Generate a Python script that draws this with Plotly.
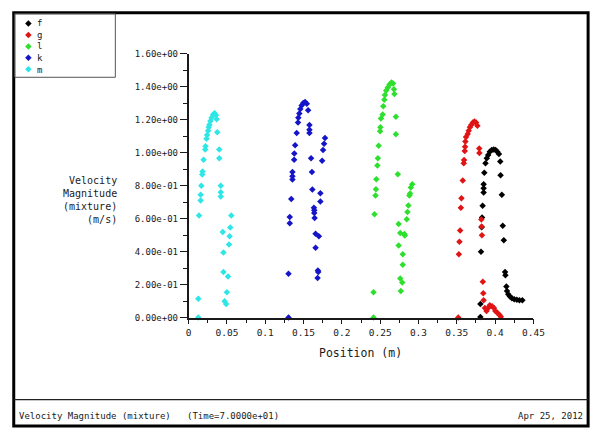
import plotly.graph_objects as go

W, H = 604, 433

# ---- series data: position (m) vs velocity magnitude (m/s) ----
series_names = ["f", "g", "l", "k", "m"]
series_colors = ["#000000", "#e01414", "#2ee02e", "#1414c8", "#2ee6e6"]

f_x = [0.3808, 0.3808, 0.3816, 0.3824, 0.3830, 0.3837, 0.3850, 0.3850, 0.3850, 0.3859,
       0.3875, 0.3892, 0.3910, 0.3930, 0.3956, 0.3982, 0.4007, 0.4029, 0.4050, 0.4067,
       0.4071, 0.4088, 0.4100, 0.4114, 0.4130, 0.4135, 0.4147, 0.4155, 0.4172, 0.4194,
       0.4220, 0.4250, 0.4284, 0.4318, 0.4356]
f_y = [0.004, 0.083, 0.400, 0.548, 0.608, 0.679, 0.759, 0.785, 0.809, 0.878,
       0.937, 0.966, 0.986, 1.006, 1.016, 1.020, 1.016, 1.006, 0.992, 0.947,
       0.864, 0.746, 0.558, 0.469, 0.276, 0.257, 0.188, 0.162, 0.142, 0.128,
       0.118, 0.112, 0.108, 0.105, 0.105]

g_x = [0.3519, 0.3527, 0.3535, 0.3544, 0.3553, 0.3561, 0.3578, 0.3591, 0.3595, 0.3604,
       0.3608, 0.3612, 0.3620, 0.3642, 0.3655, 0.3672, 0.3688, 0.3710, 0.3730, 0.3752,
       0.3769, 0.3793, 0.3795, 0.3820, 0.3824, 0.3828, 0.3840, 0.3845, 0.3850, 0.3867,
       0.3888, 0.3910, 0.3930, 0.3960, 0.3985, 0.4003, 0.4029, 0.4058, 0.4075]
g_y = [0.000, 0.385, 0.460, 0.528, 0.667, 0.724, 0.832, 0.937, 0.956, 1.010,
       1.036, 1.069, 1.095, 1.114, 1.134, 1.154, 1.169, 1.183, 1.189, 1.183,
       1.164, 1.026, 0.998, 0.595, 0.552, 0.500, 0.217, 0.148, 0.105, 0.059,
       0.040, 0.059, 0.075, 0.069, 0.059, 0.040, 0.030, 0.016, 0.005]

l_x = [0.2413, 0.2413, 0.2426, 0.2439, 0.2445, 0.2450, 0.2464, 0.2470, 0.2480, 0.2499,
       0.2503, 0.2510, 0.2533, 0.2540, 0.2554, 0.2562, 0.2579, 0.2600, 0.2622, 0.2647,
       0.2668, 0.2680, 0.2686, 0.2705, 0.2705, 0.2730, 0.2741, 0.2741, 0.2762, 0.2795,
       0.2795, 0.2762, 0.2788, 0.2770, 0.2817, 0.2822, 0.2847, 0.2856, 0.2868, 0.2881,
       0.2890, 0.2900, 0.2919]
l_y = [0.000, 0.154, 0.627, 0.740, 0.779, 0.840, 0.922, 0.966, 1.043, 1.130,
       1.154, 1.208, 1.232, 1.282, 1.321, 1.351, 1.377, 1.396, 1.414, 1.426,
       1.420, 1.385, 1.357, 1.218, 1.112, 0.870, 0.568, 0.438, 0.513, 0.385,
       0.321, 0.237, 0.213, 0.162, 0.507, 0.498, 0.596, 0.641, 0.680, 0.740,
       0.753, 0.789, 0.809]

k_x = [0.1304, 0.1304, 0.1320, 0.1320, 0.1340, 0.1355, 0.1355, 0.1355, 0.1377, 0.1380,
       0.1390, 0.1411, 0.1428, 0.1432, 0.1445, 0.1458, 0.1475, 0.1496, 0.1520, 0.1543,
       0.1560, 0.1577, 0.1577, 0.1577, 0.1598, 0.1610, 0.1615, 0.1636, 0.1640, 0.1640,
       0.1645, 0.1657, 0.1700, 0.1657, 0.1687, 0.1692, 0.1683, 0.1720, 0.1720, 0.1743,
       0.1755, 0.1768, 0.1780]
k_y = [0.000, 0.266, 0.572, 0.611, 0.720, 0.838, 0.858, 0.883, 0.957, 0.996,
       1.045, 1.120, 1.183, 1.213, 1.238, 1.266, 1.286, 1.302, 1.308, 1.298,
       1.258, 1.168, 1.140, 1.120, 0.966, 0.883, 0.777, 0.667, 0.651, 0.635,
       0.605, 0.509, 0.493, 0.424, 0.286, 0.276, 0.241, 0.704, 0.755, 0.951,
       1.016, 1.055, 1.089]

m_x = [0.0127, 0.0127, 0.0136, 0.0157, 0.0157, 0.0166, 0.0178, 0.0182, 0.0195, 0.0217,
       0.0221, 0.0234, 0.0242, 0.0255, 0.0263, 0.0272, 0.0285, 0.0300, 0.0320, 0.0340,
       0.0357, 0.0366, 0.0374, 0.0400, 0.0400, 0.0420, 0.0420, 0.0420, 0.0446, 0.0455,
       0.0455, 0.0470, 0.0490, 0.0500, 0.0514, 0.0527, 0.0535, 0.0544, 0.0557]
m_y = [0.000, 0.114, 0.620, 0.710, 0.745, 0.800, 0.868, 0.887, 0.957, 1.020,
       1.040, 1.085, 1.108, 1.134, 1.155, 1.170, 1.193, 1.213, 1.232, 1.240,
       1.227, 1.203, 1.124, 1.020, 0.966, 0.800, 0.760, 0.735, 0.520, 0.395,
       0.276, 0.099, 0.083, 0.154, 0.250, 0.444, 0.493, 0.546, 0.620]

series_x = [f_x, g_x, l_x, k_x, m_x]
series_y = [f_y, g_y, l_y, k_y, m_y]

x_tick_vals = [0, 0.05, 0.1, 0.15, 0.2, 0.25, 0.3, 0.35, 0.4, 0.45]
x_tick_text = ["0", "0.05", "0.1", "0.15", "0.2", "0.25", "0.3", "0.35", "0.4", "0.45"]
y_tick_vals = [0, 0.2, 0.4, 0.6, 0.8, 1.0, 1.2, 1.4, 1.6]
y_tick_text = ["0.00e+00", "2.00e-01", "4.00e-01", "6.00e-01", "8.00e-01",
               "1.00e+00", "1.20e+00", "1.40e+00", "1.60e+00"]

y_title_lines = ["Velocity", "Magnitude", "(mixture)", "(m/s)"]
x_title = "Position (m)"
footer_left = "Velocity Magnitude (mixture)\u00a0\u00a0\u00a0(Time=7.0000e+01)"
footer_right = "Apr 25, 2012"

MONO = "DejaVu Sans Mono"
INK = "#1a1a1a"


def fx(p):
    """pixel column -> paper x"""
    return p / W


def fy(p):
    """pixel row -> paper y"""
    return 1 - p / H


# plot area in pixels
LEFT, RIGHT, TOP, BOTTOM = 190, 543, 50, 320

fig = go.Figure()

for name, color, xs, ys in zip(series_names, series_colors, series_x, series_y):
    fig.add_trace(go.Scatter(
        x=xs, y=ys, mode="markers", name=name, cliponaxis=False,
        marker=dict(symbol="diamond", size=5, color=color, line=dict(width=0)),
        showlegend=False,
    ))

# legend key markers, drawn on a pixel-scaled overlay axis pair
legend_rows = [19, 30.7, 42.4, 54.1, 65.8]
fig.add_trace(go.Scatter(
    x=[26] * len(series_names), y=legend_rows, mode="markers",
    marker=dict(symbol="diamond", size=5, color=series_colors),
    xaxis="x2", yaxis="y2", showlegend=False, hoverinfo="skip",
))

fig.update_layout(
    width=W, height=H,
    margin=dict(l=0, r=0, t=0, b=0),
    paper_bgcolor="white",
    plot_bgcolor="rgba(0,0,0,0)",
    font=dict(family=MONO, size=9, color=INK),
    xaxis=dict(
        domain=[fx(LEFT), fx(RIGHT)], range=[0, 0.45],
        showgrid=False, zeroline=False, showline=True, linecolor=INK, linewidth=1.5,
        tickmode="array", tickvals=x_tick_vals, ticktext=x_tick_text,
        ticks="outside", ticklen=5, tickwidth=1, tickcolor=INK,
        minor=dict(dtick=0.025, tick0=0, ticks="outside", ticklen=4, tickcolor=INK),
        tickfont=dict(family=MONO, size=9.5, color=INK),
        anchor="y",
    ),
    yaxis=dict(
        domain=[fy(BOTTOM), fy(TOP)], range=[0, 1.6],
        showgrid=False, zeroline=False, showline=True, linecolor=INK, linewidth=1.5,
        tickmode="array", tickvals=y_tick_vals, ticktext=y_tick_text,
        ticks="outside", ticklen=7, tickwidth=1, tickcolor=INK,
        minor=dict(dtick=0.1, tick0=0, ticks="outside", ticklen=4, tickcolor=INK),
        tickfont=dict(family=MONO, size=9, color=INK),
        anchor="x",
    ),
    xaxis2=dict(domain=[0, 1], range=[0, W], visible=False, anchor="y2"),
    yaxis2=dict(domain=[0, 1], range=[H, 0], visible=False, anchor="x2"),
)

shapes = [
    # outer window frame
    dict(type="rect", xref="paper", yref="paper",
         x0=fx(11), x1=fx(599), y0=fy(431), y1=fy(8),
         line=dict(color="black", width=3)),
    # footer separator
    dict(type="line", xref="paper", yref="paper",
         x0=fx(11), x1=fx(599), y0=fy(404), y1=fy(404),
         line=dict(color="#222", width=1.2)),
    # legend box
    dict(type="rect", xref="paper", yref="paper",
         x0=fx(12), x1=fx(115), y0=fy(74), y1=fy(9),
         line=dict(color="#555", width=1)),
]
fig.update_layout(shapes=shapes)

ann = []
# legend labels, one per row, stacked in a single text block
ann.append(dict(text="<br>".join(series_names), x=fx(33),
                y=fy((legend_rows[0] + legend_rows[-1]) / 2),
                xref="paper", yref="paper", xanchor="left", yanchor="middle",
                align="left", showarrow=False,
                font=dict(family=MONO, size=9, color=INK)))

# y-axis title, stacked on four right-aligned lines
ann.append(dict(text="<br>".join(y_title_lines), x=fx(119), y=fy(199.5),
                xref="paper", yref="paper", xanchor="right", yanchor="middle",
                align="right", showarrow=False,
                font=dict(family=MONO, size=10, color=INK)))

ann.append(dict(text=x_title, x=fx(366), y=fy(356), xref="paper", yref="paper",
                xanchor="center", yanchor="middle", showarrow=False,
                font=dict(family=MONO, size=11.5, color=INK)))
ann.append(dict(text=footer_left, x=fx(14), y=fy(421), xref="paper", yref="paper",
                xanchor="left", yanchor="middle", showarrow=False,
                font=dict(family=MONO, size=9, color=INK)))
ann.append(dict(text=footer_right, x=fx(596), y=fy(421), xref="paper", yref="paper",
                xanchor="right", yanchor="middle", showarrow=False,
                font=dict(family=MONO, size=9, color=INK)))
fig.update_layout(annotations=ann)

fig.write_html("out.html")
